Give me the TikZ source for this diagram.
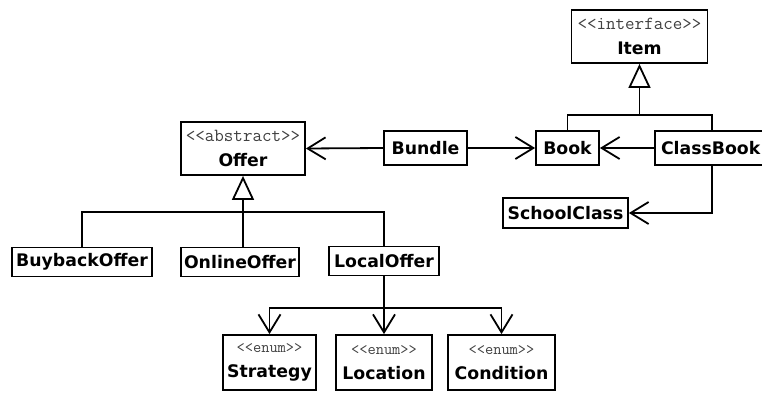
\documentclass[tikz,border=0pt]{standalone}
\usepackage{fontspec}
\setmainfont{DejaVu Sans}
\usetikzlibrary{arrows.meta}
\newcommand\stL{<\kern0pt<}
\newcommand\stR{>\kern0pt>}
\newcommand\stereo[2][18.5]{{\mdseries\ttfamily\fontsize{#1}{#1}\selectfont\color{black!75}\stL #2\stR}}
\begin{document}
\begin{tikzpicture}[x=1pt,y=-1pt,line width=1.8pt,
  cls/.style={draw, line width=1.8pt, inner sep=0pt, align=center,
    font=\fontsize{17.3}{22}\selectfont\bfseries},
  assoc/.style={-{Straight Barb[length=18pt,width=22pt,line width=1.8pt]}},
  gen/.style={-{Triangle[open,length=24pt,width=22pt,line width=1.8pt]}}]
\useasboundingbox (0,0) rectangle (762,393);
% nodes
\node[cls, minimum width=136pt, minimum height=53pt] (Item) at (639.5,36.5) {\stereo{interface}\\[3pt]Item};
\node[cls, minimum width=124pt, minimum height=53pt] (Offer) at (243,148.5) {\stereo{abstract}\\[3pt]Offer};
\node[cls, minimum width=83pt, minimum height=34pt] (Bundle) at (425.5,148) {Bundle};
\node[cls, minimum width=63pt, minimum height=34pt] (Book) at (567.5,148) {Book};
\node[cls, minimum width=114pt, minimum height=34pt, text width=114pt, align=left] (ClassBook) at (712,148) {\hspace*{6pt}ClassBook};
\node[cls, minimum width=125pt, minimum height=30pt] (SchoolClass) at (565.5,213) {SchoolClass};
\node[cls, minimum width=140pt, minimum height=29pt] (Buyback) at (82,262) {BuybackOffer};
\node[cls, minimum width=118pt, minimum height=29pt] (Online) at (240,262) {OnlineOffer};
\node[cls, minimum width=110pt, minimum height=29pt] (Local) at (384,261) {LocalOffer};
\node[cls, minimum width=93pt, minimum height=55pt] (Strategy) at (269.5,362.5) {\stereo[16]{enum}\\[3pt]Strategy};
\node[cls, minimum width=96pt, minimum height=55pt] (Location) at (384,362.5) {\stereo[16]{enum}\\[3pt]Location};
\node[cls, minimum width=107pt, minimum height=55pt] (Condition) at (501.5,362.5) {\stereo[16]{enum}\\[3pt]Condition};
% associations
\draw[assoc] (Bundle.west) -- (Offer.east);
\draw[assoc] (Bundle.east) -- (Book.west);
\draw[assoc] (ClassBook.west) -- (Book.east);
\draw[assoc] (ClassBook.south) |- (SchoolClass.east);
% generalization to Item
\coordinate (ibus) at (Item.south |- 0,115);
\draw (Book.north) |- (ibus) -| (ClassBook.north);
\draw[gen] (ibus) -- (Item.south);
% generalization to Offer
\coordinate (obus) at (Offer.south |- 0,212);
\draw (Buyback.north) |- (obus) -| (Local.north);
\draw[gen] (Offer.south |- Online.north) -- (Offer.south);
% LocalOffer to enums
\coordinate (lbus) at (Local.south |- 0,308);
\draw (Local.south) -- (lbus);
\draw[assoc] (lbus) -| (Strategy.north);
\draw[assoc] (lbus) -- (Location.north);
\draw[assoc] (lbus) -| (Condition.north);
\end{tikzpicture}
\end{document}
